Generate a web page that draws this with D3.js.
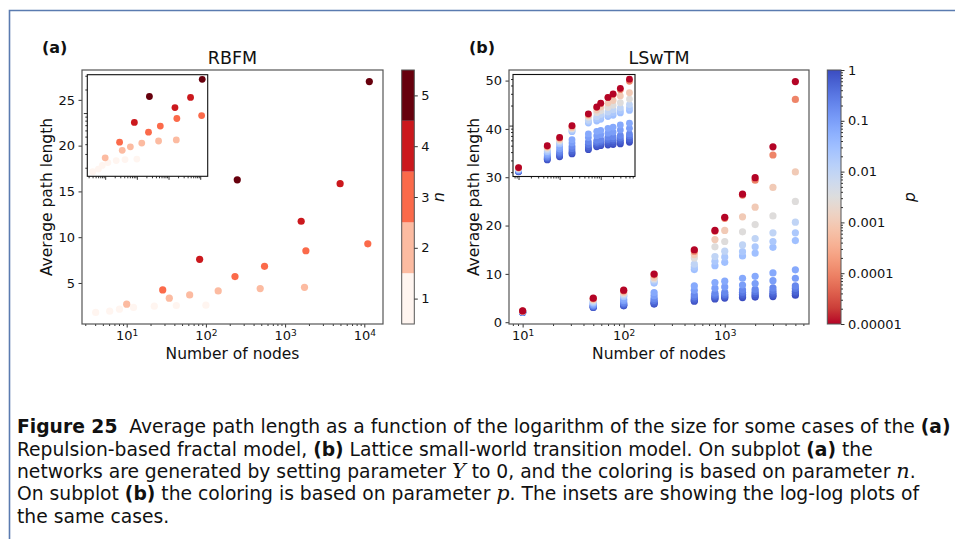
<!DOCTYPE html>
<html>
<head>
<meta charset="utf-8">
<script src="https://cdn.jsdelivr.net/npm/d3@7"></script>
<style>
body { margin: 0; background: #fff; }
svg { display: block; }
</style>
</head>
<body>
<svg width="955" height="539"></svg>
<script>
// (a) RBFM with Y = 0, one group per parameter n
var rbfmN1 = [4.06, 6.1, 8.1, 12.2, 22.3, 42.3, 100];
var rbfmL1 = [1.78, 1.92, 2.14, 2.33, 2.47, 2.54, 2.58];
var rbfmN2 = [10, 34.5, 62.4, 143, 485, 1758];
var rbfmL2 = [2.68, 3.34, 3.70, 4.13, 4.39, 4.53];
var rbfmN3 = [28.5, 233, 550, 1830, 11070];
var rbfmL3 = [4.24, 5.70, 6.82, 8.52, 9.28];
var rbfmN4 = [83.4, 1596, 4950];
var rbfmL4 = [7.58, 11.74, 15.84];
var rbfmN5 = [249, 11570];
var rbfmL5 = [16.27, 27.0];
var nLevels = [1, 2, 3, 4, 5];

// (b) LSwTM, path length per size, one value per p
var lswtmNodes = [10, 50, 100, 200, 500, 800, 1000, 1500, 2000, 3000, 5000];
var lswtmP = [1e-5, 1e-4, 1e-3, 3e-3, 0.01, 0.02, 0.03, 0.07, 0.1, 0.2, 0.3, 0.5, 0.7, 1];
var apl10   = [2.34, 2.32, 2.30, 2.28, 2.25, 2.22, 2.19, 2.16, 2.13, 2.10, 2.08, 2.06, 2.04, 2.02];
var apl50   = [4.98, 4.90, 4.72, 4.55, 4.32, 4.15, 4.02, 3.80, 3.62, 3.45, 3.33, 3.22, 3.12, 3.05];
var apl100  = [6.64, 6.50, 6.20, 5.95, 5.70, 5.50, 5.30, 4.80, 4.45, 4.10, 3.85, 3.65, 3.50, 3.40];
var apl200  = [9.96, 9.80, 9.30, 9.00, 8.75, 8.40, 8.10, 6.15, 5.50, 4.90, 4.50, 4.15, 3.90, 3.75];
var apl500  = [15.0, 14.7, 14.0, 13.3, 12.0, 11.4, 10.9, 7.5, 6.6, 5.7, 5.2, 4.8, 4.5, 4.35];
var apl800  = [19.0, 18.8, 17.1, 15.6, 13.6, 12.6, 11.7, 8.2, 7.05, 6.0, 5.6, 5.3, 5.0, 4.8];
var apl1000 = [21.7, 21.5, 19.0, 16.7, 14.7, 13.5, 12.4, 8.5, 7.3, 6.2, 5.8, 5.5, 5.2, 5.0];
var apl1500 = [26.5, 26.3, 21.8, 18.7, 16.0, 14.6, 13.7, 9.1, 7.7, 6.7, 6.2, 5.8, 5.4, 5.1];
var apl2000 = [29.9, 29.4, 23.8, 20.2, 17.3, 15.6, 14.3, 9.5, 8.0, 6.8, 6.3, 5.9, 5.5, 5.2];
var apl3000 = [36.3, 34.6, 27.9, 22.0, 18.5, 16.7, 15.5, 10.2, 8.6, 7.1, 6.5, 6.0, 5.6, 5.3];
var apl5000 = [49.8, 46.1, 31.1, 25.0, 20.7, 18.5, 16.9, 10.85, 9.1, 7.5, 7.0, 6.4, 6.0, 5.6];

var rbfmTicks = [5, 10, 15, 20, 25];
var lswtmTicks = [0, 10, 20, 30, 40, 50];

var captionLines = [
    [["Figure 25", "b"], ["  Average path length as a function of the logarithm of the size for some cases of the ", ""], ["(a)", "b"]],
    [["Repulsion-based fractal model, ", ""], ["(b)", "b"], [" Lattice small-world transition model. On subplot ", ""], ["(a)", "b"], [" the", ""]],
    [["networks are generated by setting parameter ", ""], ["Y", "i"], [" to 0, and the coloring is based on parameter ", ""], ["n", "i"], [".", ""]],
    [["On subplot ", ""], ["(b)", "b"], [" the coloring is based on parameter ", ""], ["p", "i"], [". The insets are showing the log-log plots of", ""]],
    [["the same cases.", ""]]
];

var svg = d3.select("svg"),
    font = "'DejaVu Sans', sans-serif";

svg.append("rect").attr("width", 955).attr("height", 539).attr("fill", "#fff");
svg.append("path")
    .attr("d", "M9.5,539V10.5H955")
    .attr("fill", "none")
    .attr("stroke", "#5a7bb0")
    .attr("stroke-width", 1.6);

// matplotlib coolwarm, reversed below for p
var coolwarm = d3.piecewise(d3.interpolateRgb, ["#3b4cc0", "#4d68d7", "#6282ea", "#779af7", "#8db0fe", "#a3c2ff",
    "#b8d0f9", "#ccd9ee", "#dddddd", "#ecd3c5", "#f5c4ac", "#f7b194", "#f49a7b", "#ec7f63", "#de604d", "#cb3e38", "#b40426"]);
var pScale = d3.scaleLog().domain([1e-5, 1]).range([0, 1]);
function pColor(p) { return coolwarm(1 - pScale(p)); }
var reds = d3.piecewise(d3.interpolateRgb, d3.schemeReds[9]);
var nColor = d3.scaleLinear().domain([1, 5]).range([0, 1]);

function padLog(v) {
    var e = d3.extent(v, function(d) { return Math.log10(d); }), m = (e[1] - e[0]) * 0.05;
    return [Math.pow(10, e[0] - m), Math.pow(10, e[1] + m)];
}
function padLin(v) {
    var e = d3.extent(v), m = (e[1] - e[0]) * 0.05;
    return [e[0] - m, e[1] + m];
}
function isPow10(d) {
    var k = Math.log10(d);
    return Math.abs(k - Math.round(k)) < 1e-6;
}

function logBottom(g, x, labels) {
    g.call(d3.axisBottom(x).tickValues(x.ticks()).tickSize(3.5).tickPadding(3.5).tickFormat(""));
    g.select(".domain").remove();
    g.attr("color", "#333").attr("font-family", font).attr("font-size", 13);
    g.selectAll(".tick").each(function(d) {
        var t = d3.select(this), major = isPow10(d);
        t.select("line").attr("y2", major ? 3.5 : 2);
        if (labels && major) {
            var txt = t.select("text").attr("fill", "#111");
            txt.append("tspan").text("10");
            txt.append("tspan").attr("dy", "-0.5em").attr("font-size", 9).text(Math.round(Math.log10(d)));
        }
    });
}
function logLeft(g, y) {
    g.call(d3.axisLeft(y).tickValues(y.ticks()).tickSize(3.5).tickFormat(""));
    g.select(".domain").remove();
    g.attr("color", "#333");
    g.selectAll(".tick line").attr("x2", function(d) { return isPow10(d) ? -3.5 : -2; });
}
function linLeft(g, y, vals) {
    g.call(d3.axisLeft(y).tickValues(vals).tickSize(3.5).tickPadding(3.5));
    g.select(".domain").remove();
    g.attr("color", "#333").attr("font-family", font).attr("font-size", 13);
    g.selectAll("text").attr("fill", "#111");
}

function drawPanel(o) {
    var x = d3.scaleLog().domain(padLog(o.pts.map(function(d) { return d.N; }))).range([o.box.l, o.box.r]),
        y = d3.scaleLinear().domain(padLin(o.pts.map(function(d) { return d.L; }))).range([o.box.b, o.box.t]);

    svg.append("g").selectAll("circle")
        .data(o.pts)
        .enter().append("circle")
        .attr("cx", function(d) { return x(d.N); })
        .attr("cy", function(d) { return y(d.L); })
        .attr("r", 3.6)
        .attr("fill", function(d) { return d.color; });

    svg.append("g").attr("transform", "translate(0," + o.box.b + ")").call(logBottom, x, true);
    svg.append("g").attr("transform", "translate(" + o.box.l + ",0)").call(linLeft, y, o.yTicks);
    svg.append("rect")
        .attr("x", o.box.l).attr("y", o.box.t)
        .attr("width", o.box.r - o.box.l).attr("height", o.box.b - o.box.t)
        .attr("fill", "none").attr("stroke", "#555").attr("stroke-width", 1.2);

    // inset, log-log
    var xi = d3.scaleLog().domain(x.domain()).range([o.inset.l, o.inset.r]),
        yi = d3.scaleLog().domain(padLog(o.pts.map(function(d) { return d.L; }))).range([o.inset.b, o.inset.t]);
    svg.append("rect")
        .attr("x", o.inset.l).attr("y", o.inset.t)
        .attr("width", o.inset.r - o.inset.l).attr("height", o.inset.b - o.inset.t)
        .attr("fill", "#fff");
    svg.append("g").selectAll("circle")
        .data(o.pts)
        .enter().append("circle")
        .attr("cx", function(d) { return xi(d.N); })
        .attr("cy", function(d) { return yi(d.L); })
        .attr("r", 3.4)
        .attr("fill", function(d) { return d.color; });
    svg.append("g").attr("transform", "translate(0," + o.inset.b + ")").call(logBottom, xi, false);
    svg.append("g").attr("transform", "translate(" + o.inset.l + ",0)").call(logLeft, yi);
    svg.append("rect")
        .attr("x", o.inset.l).attr("y", o.inset.t)
        .attr("width", o.inset.r - o.inset.l).attr("height", o.inset.b - o.inset.t)
        .attr("fill", "none").attr("stroke", "#111").attr("stroke-width", 1.1);

    var cx = (o.box.l + o.box.r) / 2, cy = (o.box.t + o.box.b) / 2;
    svg.append("text").attr("x", cx).attr("y", 64).attr("text-anchor", "middle")
        .attr("font-family", font).attr("font-size", 17.5).attr("fill", "#111").text(o.title);
    svg.append("text").attr("x", o.box.l - 40).attr("y", 53)
        .attr("font-family", font).attr("font-size", 16).attr("font-weight", "bold").attr("fill", "#111").text(o.tag);
    svg.append("text").attr("x", cx).attr("y", 358.5).attr("text-anchor", "middle")
        .attr("font-family", font).attr("font-size", 15.5).attr("fill", "#111").text("Number of nodes");
    svg.append("text").attr("transform", "translate(" + (o.box.l - 30.5) + "," + cy + ") rotate(-90)")
        .attr("text-anchor", "middle")
        .attr("font-family", font).attr("font-size", 15.5).attr("fill", "#111").text("Average path length");
}

// ---- panel (a)
var rbfmGroups = [[rbfmN1, rbfmL1], [rbfmN2, rbfmL2], [rbfmN3, rbfmL3], [rbfmN4, rbfmL4], [rbfmN5, rbfmL5]];
var rbfmPts = [];
rbfmGroups.forEach(function(gr, i) {
    gr[0].forEach(function(n, j) {
        rbfmPts.push({N: n, L: gr[1][j], color: reds(nColor(nLevels[i]))});
    });
});
drawPanel({
    box: {l: 82, t: 70, r: 383, b: 324},
    inset: {l: 87.3, t: 74.7, r: 207.7, b: 176.3},
    pts: rbfmPts, yTicks: rbfmTicks, title: "RBFM", tag: "(a)"
});

// colorbar n
var nY = d3.scaleLinear().domain([0.5, 5.5]).range([324, 70]);
svg.append("g").selectAll("rect")
    .data(nLevels)
    .enter().append("rect")
    .attr("x", 401.7).attr("width", 12.6)
    .attr("y", function(d) { return nY(d + 0.5); })
    .attr("height", function(d) { return nY(d - 0.5) - nY(d + 0.5); })
    .attr("fill", function(d) { return reds(nColor(d)); });
svg.append("rect").attr("x", 401.7).attr("y", 70).attr("width", 12.6).attr("height", 254)
    .attr("fill", "none").attr("stroke", "#555").attr("stroke-width", 1);
var nAxis = svg.append("g").attr("transform", "translate(414.3,0)")
    .call(d3.axisRight(nY).tickValues(nLevels).tickFormat(d3.format("d")).tickSize(3.5).tickPadding(3.5));
nAxis.select(".domain").remove();
nAxis.attr("color", "#333").attr("font-family", font).attr("font-size", 13);
nAxis.selectAll("text").attr("fill", "#111");
svg.append("text").attr("transform", "translate(444,197) rotate(-90)").attr("text-anchor", "middle")
    .attr("font-family", font).attr("font-style", "italic").attr("font-size", 15.5).attr("fill", "#111").text("n");

// ---- panel (b)
var lswtmRows = [apl10, apl50, apl100, apl200, apl500, apl800, apl1000, apl1500, apl2000, apl3000, apl5000];
var lswtmPts = [];
lswtmP.forEach(function(p, j) {
    lswtmNodes.forEach(function(n, i) {
        lswtmPts.push({N: n, L: lswtmRows[i][j], p: p, color: pColor(p)});
    });
});
lswtmPts.sort(function(a, b) { return b.p - a.p; });
drawPanel({
    box: {l: 509, t: 70, r: 809, b: 324},
    inset: {l: 513, t: 74.5, r: 635, b: 176.5},
    pts: lswtmPts, yTicks: lswtmTicks, title: "LSwTM", tag: "(b)"
});

// colorbar p
var grad = svg.append("defs").append("linearGradient").attr("id", "cw")
    .attr("x1", 0).attr("y1", 1).attr("x2", 0).attr("y2", 0);
grad.selectAll("stop")
    .data(d3.range(0, 1.0001, 1 / 32))
    .enter().append("stop")
    .attr("offset", function(t) { return t; })
    .attr("stop-color", function(t) { return coolwarm(1 - t); });
svg.append("rect").attr("x", 827.3).attr("y", 70).attr("width", 13.7).attr("height", 254)
    .attr("fill", "url(#cw)").attr("stroke", "#555").attr("stroke-width", 1);
var pY = d3.scaleLog().domain([1e-5, 1]).range([324, 70]);
var pAxis = svg.append("g").attr("transform", "translate(841,0)")
    .call(d3.axisRight(pY).tickValues(pY.ticks()).tickSize(3.5).tickPadding(3.5)
        .tickFormat(function(d) {
            if (!isPow10(d)) return "";
            return d >= 1 ? "1" : d.toFixed(Math.round(-Math.log10(d)));
        }));
pAxis.select(".domain").remove();
pAxis.attr("color", "#333").attr("font-family", font).attr("font-size", 13);
pAxis.selectAll("text").attr("fill", "#111");
pAxis.selectAll(".tick line").attr("x2", function(d) { return isPow10(d) ? 3.5 : 2; });
svg.append("text").attr("transform", "translate(915,197) rotate(-90)").attr("text-anchor", "middle")
    .attr("font-family", font).attr("font-style", "italic").attr("font-size", 15.5).attr("fill", "#111").text("p");

// ---- caption
var cap = svg.append("g")
    .attr("font-family", "'DejaVu Sans Condensed', 'Liberation Sans Narrow', 'DejaVu Sans', sans-serif")
    .attr("font-size", 19.5).attr("fill", "#111");
var rows = cap.selectAll("text")
    .data(captionLines)
    .enter().append("text")
    .attr("y", function(d, i) { return 433.5 + i * 22.3; })
    .style("white-space", "pre");
rows.each(function(segs) {
    var t = d3.select(this);
    segs.forEach(function(s) {
        var sp = t.append("tspan").text(s[0]);
        if (s[1] == "b") sp.attr("font-weight", "bold");
        if (s[1] == "i") sp.attr("font-family", "'DejaVu Serif', serif").attr("font-style", "italic");
    });
});
var k = (951 - 17) / rows.node().getComputedTextLength();
rows.attr("transform", "translate(17,0) scale(" + k + ",1)");
</script>
</body>
</html>
